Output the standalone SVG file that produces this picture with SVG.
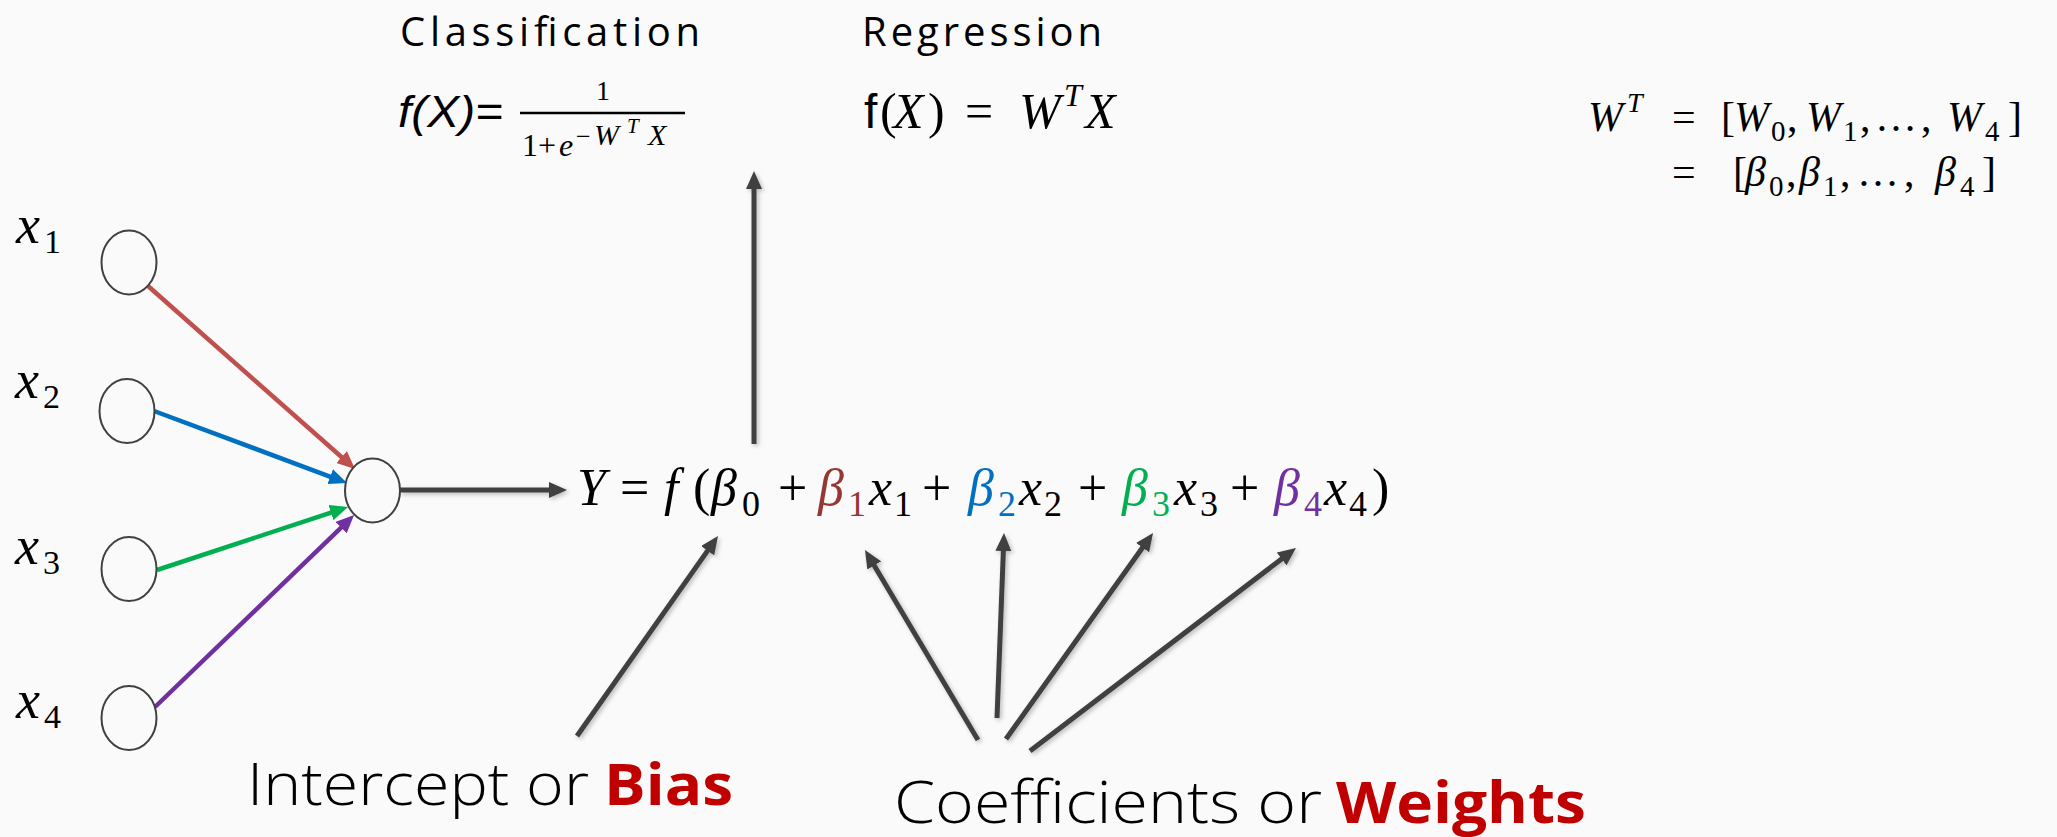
<svg xmlns="http://www.w3.org/2000/svg" width="2057" height="837" viewBox="0 0 2057 837">
<style>
.m{font-family:"Liberation Serif","DejaVu Serif",serif;fill:#000}
.i{font-style:italic}
.s{font-family:"Open Sans","Liberation Sans",sans-serif;fill:#000}
.node{fill:#fafafa;stroke:#404040;stroke-width:2}
.dk{stroke:#404040;stroke-width:5;fill:none;marker-end:url(#ad);filter:url(#sh)}
.cl{stroke-width:4.5;fill:none}
</style>
<defs>
<filter id="sh" filterUnits="userSpaceOnUse" x="0" y="0" width="2057" height="837"><feDropShadow dx="2" dy="2" stdDeviation="2" flood-color="#000" flood-opacity="0.25"/></filter>
<marker id="ad" markerUnits="userSpaceOnUse" markerWidth="18" markerHeight="16" refX="9" refY="8" orient="auto"><path d="M0,0 L18,8 L0,16 z" fill="#404040"/></marker>
<marker id="ar" markerUnits="userSpaceOnUse" markerWidth="18" markerHeight="16" refX="9" refY="8" orient="auto"><path d="M0,0 L18,8 L0,16 z" fill="#C0504D"/></marker>
<marker id="ab" markerUnits="userSpaceOnUse" markerWidth="18" markerHeight="16" refX="9" refY="8" orient="auto"><path d="M0,0 L18,8 L0,16 z" fill="#0070C0"/></marker>
<marker id="ag" markerUnits="userSpaceOnUse" markerWidth="18" markerHeight="16" refX="9" refY="8" orient="auto"><path d="M0,0 L18,8 L0,16 z" fill="#00B050"/></marker>
<marker id="ap" markerUnits="userSpaceOnUse" markerWidth="18" markerHeight="16" refX="9" refY="8" orient="auto"><path d="M0,0 L18,8 L0,16 z" fill="#7030A0"/></marker>
</defs>
<rect width="2057" height="837" fill="#fafafa"/>

<g id="connectors">
<line class="cl" x1="148" y1="286" x2="348.3" y2="463" stroke="#C0504D" marker-end="url(#ar)"/>
<line class="cl" x1="154" y1="411" x2="338.6" y2="479.8" stroke="#0070C0" marker-end="url(#ab)"/>
<line class="cl" x1="157" y1="570" x2="339.5" y2="509.8" stroke="#00B050" marker-end="url(#ag)"/>
<line class="cl" x1="155" y1="707" x2="347.6" y2="521.3" stroke="#7030A0" marker-end="url(#ap)"/>
<line class="dk" x1="400" y1="490" x2="558" y2="490"/>
<line class="dk" x1="754" y1="444" x2="754" y2="180"/>
<line class="dk" x1="577" y1="736" x2="712.8" y2="543.4"/>
<line class="dk" x1="978" y1="740" x2="869.6" y2="557.7"/>
<line class="dk" x1="997" y1="718" x2="1003.7" y2="542"/>
<line class="dk" x1="1006" y1="739" x2="1147.8" y2="540.3"/>
<line class="dk" x1="1030" y1="751" x2="1288.8" y2="553.5"/>
</g>

<g id="node-x1">
<ellipse class="node" cx="129" cy="262.5" rx="27.5" ry="32"/>
<text class="m i" x="16" y="243" font-size="54">x</text><text class="m" x="44" y="253" font-size="34">1</text>
</g>
<g id="node-x2">
<ellipse class="node" cx="127" cy="411" rx="27.5" ry="32"/>
<text class="m i" x="15" y="398" font-size="54">x</text><text class="m" x="43" y="408" font-size="34">2</text>
</g>
<g id="node-x3">
<ellipse class="node" cx="129" cy="569" rx="27.5" ry="32"/>
<text class="m i" x="15" y="564" font-size="54">x</text><text class="m" x="43" y="574" font-size="34">3</text>
</g>
<g id="node-x4">
<ellipse class="node" cx="129" cy="718" rx="27.5" ry="32"/>
<text class="m i" x="16" y="718" font-size="54">x</text><text class="m" x="44" y="728" font-size="34">4</text>
</g>
<g id="node-sum">
<ellipse class="node" cx="372.5" cy="490.5" rx="27.5" ry="32"/>
</g>

<g id="equation">
<text class="m" font-size="52">
<tspan class="i" x="577" y="505">Y</tspan>
<tspan x="620" y="505">=</tspan>
<tspan class="i" x="664" y="505">f</tspan>
<tspan x="693" y="505">(</tspan>
<tspan class="i" x="711" y="505">β</tspan><tspan x="742" y="516" font-size="36">0</tspan>
<tspan x="778" y="505">+</tspan>
<tspan class="i" x="818" y="505" fill="#953735">β</tspan><tspan x="848" y="516" font-size="36" fill="#953735">1</tspan>
<tspan class="i" x="869" y="505">x</tspan><tspan x="894" y="516" font-size="36">1</tspan>
<tspan x="922" y="505">+</tspan>
<tspan class="i" x="968" y="505" fill="#0070C0">β</tspan><tspan x="998" y="516" font-size="36" fill="#0070C0">2</tspan>
<tspan class="i" x="1019" y="505">x</tspan><tspan x="1044" y="516" font-size="36">2</tspan>
<tspan x="1078" y="505">+</tspan>
<tspan class="i" x="1122" y="505" fill="#00B050">β</tspan><tspan x="1152" y="516" font-size="36" fill="#00B050">3</tspan>
<tspan class="i" x="1174" y="505">x</tspan><tspan x="1200" y="516" font-size="36">3</tspan>
<tspan x="1230" y="505">+</tspan>
<tspan class="i" x="1274" y="505" fill="#7030A0">β</tspan><tspan x="1304" y="516" font-size="36" fill="#7030A0">4</tspan>
<tspan class="i" x="1324" y="505">x</tspan><tspan x="1349" y="516" font-size="36">4</tspan>
<tspan x="1372" y="505">)</tspan>
</text>
</g>

<g id="classification">
<text class="s" x="400" y="46" font-size="40" textLength="300" lengthAdjust="spacing">Classification</text>
<text x="398" y="127" font-size="44" font-style="italic" font-family="Liberation Sans, Arial, sans-serif" textLength="105" lengthAdjust="spacingAndGlyphs">f(X)=</text>
<line x1="520" y1="113" x2="685" y2="113" stroke="#000" stroke-width="2.5"/>
<text class="m" x="596" y="100" font-size="28">1</text>
<text class="m" font-size="32"><tspan x="522" y="156">1</tspan><tspan x="538" y="156">+</tspan><tspan class="i" x="559" y="156">e</tspan><tspan x="576" y="145" font-size="26">−</tspan><tspan class="i" x="594" y="145" font-size="30">W</tspan><tspan class="i" x="627" y="133" font-size="21">T</tspan><tspan class="i" x="648" y="145" font-size="30">X</tspan></text>
</g>

<g id="regression">
<text class="s" x="862" y="46" font-size="40" textLength="240" lengthAdjust="spacing">Regression</text>
<text x="864" y="128" font-size="48" font-family="Liberation Sans, Arial, sans-serif">f</text>
<text class="m" font-size="50"><tspan x="880" y="128">(</tspan><tspan class="i" x="893" y="128">X</tspan><tspan x="928" y="128">)</tspan><tspan x="965" y="128">=</tspan><tspan class="i" x="1019" y="128">W</tspan><tspan class="i" x="1064" y="106" font-size="32">T</tspan><tspan class="i" x="1085" y="128">X</tspan></text>
</g>

<g id="weights-def">
<text class="m" font-size="42"><tspan class="i" x="1588" y="131">W</tspan><tspan class="i" x="1627" y="112" font-size="28">T</tspan><tspan x="1672" y="131">=</tspan><tspan x="1721" y="131">[</tspan><tspan class="i" x="1734" y="131">W</tspan><tspan x="1771" y="141" font-size="29">0</tspan><tspan x="1787" y="131">,</tspan><tspan class="i" x="1806" y="131">W</tspan><tspan x="1843" y="141" font-size="29">1</tspan><tspan x="1860" y="131">,</tspan><tspan x="1875" y="131">…</tspan><tspan x="1921" y="131">,</tspan><tspan class="i" x="1947" y="131">W</tspan><tspan x="1985" y="141" font-size="29">4</tspan><tspan x="2008" y="131">]</tspan></text>
<text class="m" font-size="42"><tspan x="1672" y="186">=</tspan><tspan x="1733" y="186">[</tspan><tspan class="i" x="1745" y="186">β</tspan><tspan x="1769" y="196" font-size="29">0</tspan><tspan x="1786" y="186">,</tspan><tspan class="i" x="1799" y="186">β</tspan><tspan x="1823" y="196" font-size="29">1</tspan><tspan x="1840" y="186">,</tspan><tspan x="1857" y="186">…</tspan><tspan x="1904" y="186">,</tspan><tspan class="i" x="1935" y="186">β</tspan><tspan x="1960" y="196" font-size="29">4</tspan><tspan x="1982" y="186">]</tspan></text>
</g>

<g id="label-bias">
<text class="s" font-size="58" font-weight="300"><tspan x="247" y="805" textLength="342" lengthAdjust="spacingAndGlyphs">Intercept or</tspan><tspan x="604" y="805" font-weight="700" fill="#C00000" textLength="129" lengthAdjust="spacingAndGlyphs">Bias</tspan></text>
</g>
<g id="label-weights">
<text class="s" font-size="58" font-weight="300"><tspan x="894" y="823" textLength="428" lengthAdjust="spacingAndGlyphs">Coefficients or</tspan><tspan x="1336" y="823" font-weight="700" fill="#C00000" textLength="250" lengthAdjust="spacingAndGlyphs">Weights</tspan></text>
</g>
</svg>
